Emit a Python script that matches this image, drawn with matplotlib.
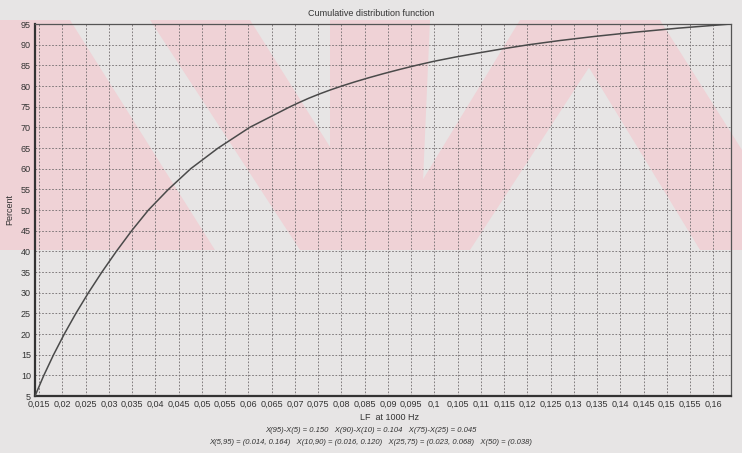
import matplotlib
matplotlib.use("Agg")
import matplotlib.pyplot as plt
from matplotlib.ticker import FixedLocator, FuncFormatter
from matplotlib.patches import Polygon

# Empirical cumulative distribution of LF at 1000 Hz
lf_values = [0.0141, 0.0160, 0.0181, 0.0204, 0.0229, 0.0256, 0.0285, 0.0316,
             0.0349, 0.0385, 0.0428, 0.0476, 0.0535, 0.0603, 0.0690,
             0.0709, 0.0729, 0.0751, 0.0775, 0.0801, 0.0829, 0.0859,
             0.0891, 0.0925, 0.0961, 0.1000, 0.1045, 0.1095, 0.1147,
             0.1204, 0.1270, 0.1345, 0.1430, 0.1525, 0.1638]
percent = [5, 10, 15, 20, 25, 30, 35, 40,
           45, 50, 55, 60, 65, 70, 75,
           76, 77, 78, 79, 80, 81, 82,
           83, 84, 85, 86, 87, 88, 89,
           90, 91, 92, 93, 94, 95]

x_ticks = [0.015, 0.02, 0.025, 0.03, 0.035, 0.04, 0.045, 0.05, 0.055, 0.06,
           0.065, 0.07, 0.075, 0.08, 0.085, 0.09, 0.095, 0.1, 0.105, 0.11,
           0.115, 0.12, 0.125, 0.13, 0.135, 0.14, 0.145, 0.15, 0.155, 0.16]
y_ticks = list(range(5, 100, 5))

title = "Cumulative distribution function"
x_label = "LF  at 1000 Hz"
y_label = "Percent"
stats_line1 = "X(95)-X(5) = 0.150   X(90)-X(10) = 0.104   X(75)-X(25) = 0.045"
stats_line2 = ("X(5,95) = (0.014, 0.164)   X(10,90) = (0.016, 0.120)   "
               "X(25,75) = (0.023, 0.068)   X(50) = (0.038)")

plt.rcParams["font.family"] = ["Liberation Sans", "DejaVu Sans"]

W, H = 742, 453
fig = plt.figure(figsize=(W / 100, H / 100), dpi=100)
fig.patch.set_facecolor("#e7e5e5")

# faint pink backdrop bands behind the chart
pink = "#efd2d6"
bands = [
    [(0, 20), (70, 20), (215, 250), (0, 250)],
    [(150, 20), (250, 20), (395, 250), (300, 250)],
    [(330, 20), (430, 20), (420, 250), (330, 250)],
    [(520, 20), (620, 20), (470, 250), (380, 250)],
    [(560, 20), (660, 20), (742, 150), (742, 250), (700, 250)],
]
for pts in bands:
    fig.patches.append(Polygon([(x / W, 1 - y / H) for x, y in pts],
                               closed=True, transform=fig.transFigure,
                               facecolor=pink, edgecolor="none", zorder=-5))

ax = fig.add_axes([35 / W, 1 - 396 / H, (731 - 35) / W, (396 - 24) / H])
ax.set_zorder(2)
ax.set_facecolor("none")

ax.plot(lf_values, percent, color="#4a4a4a", linewidth=1.1, zorder=3)

ax.set_xlim(0.0141, 0.1638)
ax.set_ylim(5, 95)
ax.xaxis.set_major_locator(FixedLocator(x_ticks))
ax.yaxis.set_major_locator(FixedLocator(y_ticks))
ax.xaxis.set_major_formatter(FuncFormatter(lambda v, p: f"{v:g}".replace(".", ",")))
ax.yaxis.set_major_formatter(FuncFormatter(lambda v, p: f"{v:g}"))
ax.tick_params(axis="both", length=0, labelsize=6.5, colors="#333333", pad=3)

ax.grid(True, color="#6f6a6c", linestyle=(0, (2, 2)), linewidth=0.6)

for side in ["left", "bottom"]:
    ax.spines[side].set_color("#333333")
    ax.spines[side].set_linewidth(1.6)
for side in ["top", "right"]:
    ax.spines[side].set_color("#555555")
    ax.spines[side].set_linewidth(0.9)

fig.text(371 / W, 1 - 14 / H, title, ha="center", va="center",
         fontsize=6.5, color="#333333")
fig.text(10 / W, 1 - 210 / H, y_label, ha="center", va="center",
         rotation=90, fontsize=6.5, color="#333333")
fig.text(390 / W, 1 - 418 / H, x_label, ha="center", va="center",
         fontsize=6.5, color="#333333")
fig.text(371 / W, 1 - 431 / H, stats_line1, ha="center", va="center",
         fontsize=5.5, style="italic", color="#333333")
fig.text(371 / W, 1 - 443 / H, stats_line2, ha="center", va="center",
         fontsize=5.5, style="italic", color="#333333")

fig.savefig("out.png", dpi=100, facecolor=fig.get_facecolor())
